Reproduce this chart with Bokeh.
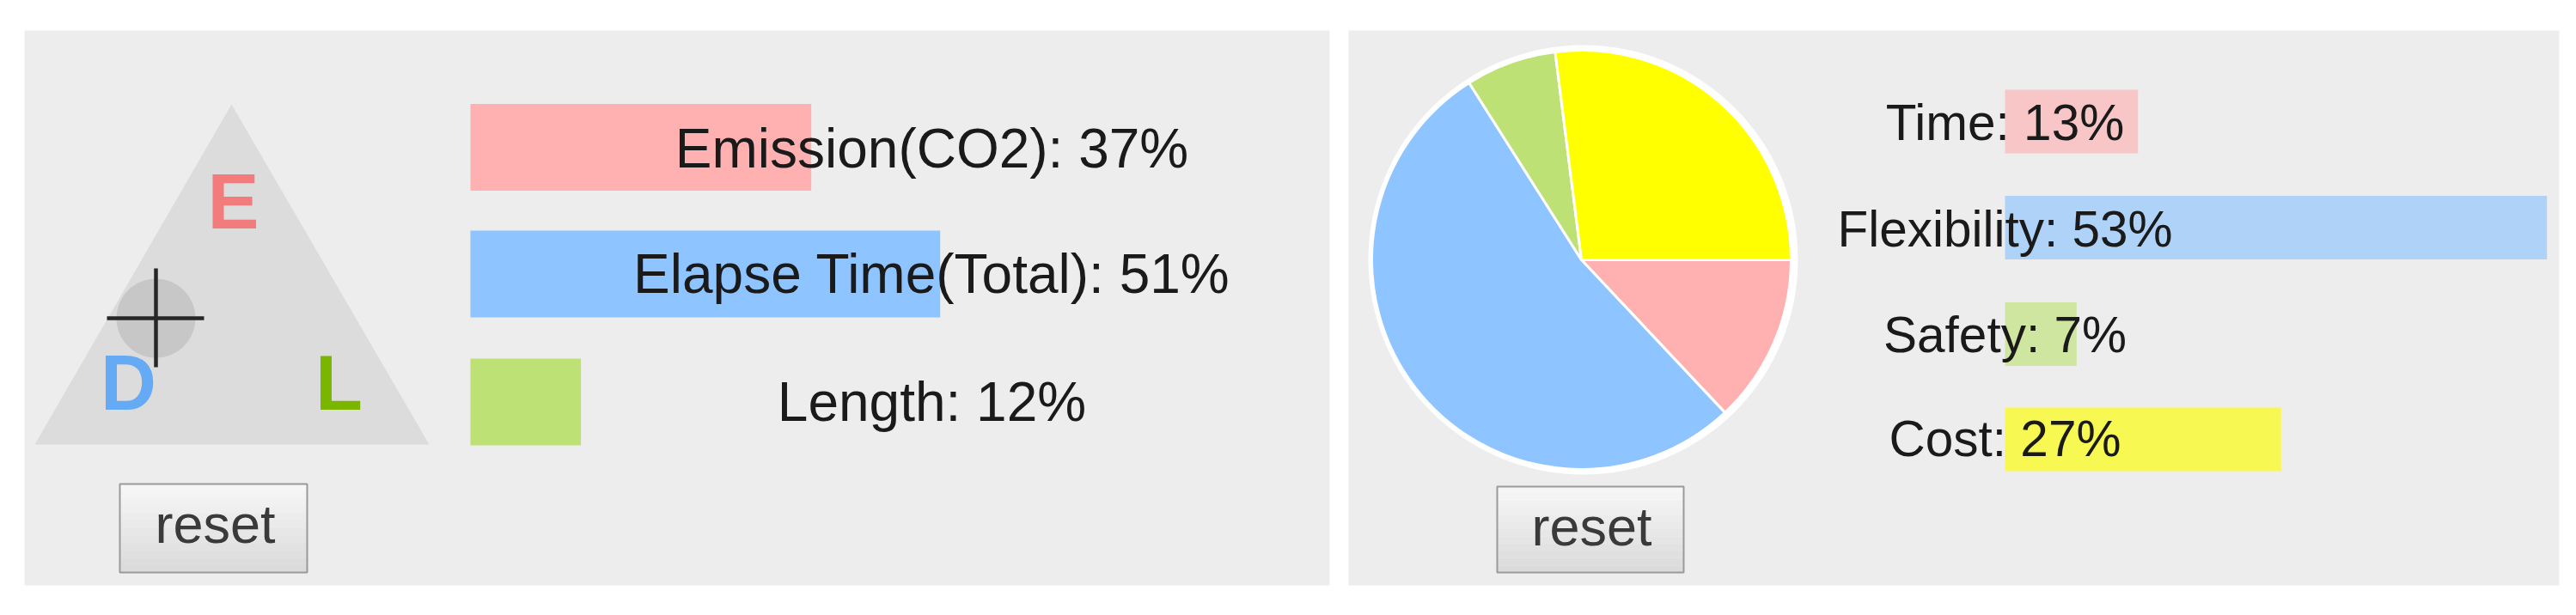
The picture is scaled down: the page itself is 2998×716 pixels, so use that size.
from bokeh.plotting import figure
from bokeh.models import Range1d
from bokeh.core.properties import value
from bokeh.embed import file_html
from bokeh.resources import INLINE
import math

# ---------------- data ----------------
left_labels = ["Emission(CO2)", "Elapse Time(Total)", "Length"]
left_values = [37, 51, 12]
left_colors = ["#ffb1b1", "#8ec4ff", "#bee176"]

tri_letters = ["E", "D", "L"]
tri_colors = ["#f27b7b", "#64aaf4", "#7ab600"]

right_labels = ["Time", "Flexibility", "Safety", "Cost"]
right_values = [13, 53, 7, 27]
pie_colors = ["#ffb1b1", "#8ec4ff", "#bee176", "#ffff00"]
right_bar_colors = ["#f8c6c6", "#aed2f8", "#cfe6a0", "#f8f852"]

button_text = "reset"

# ---------------- layout ----------------
W, H = 2982, 700
FONT = value("Liberation Sans")


def Y(y):
    return H - y


# left bar scale: origin 547 px, 10.72 px per percent
LX0, LS = 547, 10.72
# right bar scale: origin 2333 px, 11.9 px per percent
RX0, RS = 2333, 11.9

p = figure(width=W, height=H, x_range=Range1d(0, W), y_range=Range1d(0, H),
           output_backend="svg", toolbar_location=None,
           x_axis_location=None, y_axis_location=None, min_border=0)
p.extra_x_ranges = {
    "lpct": Range1d(-LX0 / LS, (W - LX0) / LS),
    "rpct": Range1d(-RX0 / RS, (W - RX0) / RS),
}
p.grid.visible = False
p.outline_line_color = None
p.background_fill_color = "white"
p.border_fill_color = "white"

# panels
p.quad(left=[28, 1569], right=[1547, 2978], top=[Y(35), Y(35)],
       bottom=[Y(681), Y(681)], fill_color="#ededed", line_color=None)

# ---- left panel: triangle selector ----
p.patch(x=[269, 40, 499], y=[Y(121), Y(517), Y(517)],
        fill_color="#dcdcdc", line_color=None)
p.text(x=[271, 149, 394], y=[Y(234), Y(445), Y(445)], text=tri_letters,
       text_color=tri_colors, text_font=FONT, text_font_size=value("90px"),
       text_font_style="bold", text_align="center", text_baseline="alphabetic")
p.circle(x=[181], y=[Y(370)], radius=46, radius_units="screen",
         fill_color="#c7c7c7", line_color=None)
p.segment(x0=[124, 181], y0=[Y(370), Y(312)], x1=[237, 181], y1=[Y(370), Y(427)],
          line_color="#262626", line_width=4.5)

# ---- left bars ----
left_y = [Y(171), Y(318.5), Y(467.5)]
p.hbar(y=left_y, height=101, left=0, right=left_values, x_range_name="lpct",
       fill_color=left_colors, line_color=None)
p.text(x=[1084] * 3, y=[Y(172), Y(318.5), Y(467)],
       text=[f"{l}: {v}%" for l, v in zip(left_labels, left_values)],
       text_color="#1a1a1a", text_font=FONT, text_font_size=value("64px"),
       text_align="center", text_baseline="alphabetic")

# ---- pie ----
cx, cy, r = 1840, Y(302), 244
p.circle(x=[cx + 2], y=[cy], radius=250, radius_units="screen",
         fill_color="white", line_color=None)
tot = sum(right_values)
starts, ends = [], []
acc = 0.0
for v in right_values:
    starts.append(-2 * math.pi * acc / tot)
    acc += v
    ends.append(-2 * math.pi * acc / tot)
p.wedge(x=[cx] * 4, y=[cy] * 4, radius=r, radius_units="screen",
        start_angle=starts, end_angle=ends, direction="clock",
        fill_color=pie_colors, line_color="white", line_width=3)

# ---- right bars ----
right_y = [Y(141), Y(264.5), Y(388.5), Y(511)]
p.hbar(y=right_y, height=74, left=0, right=right_values, x_range_name="rpct",
       fill_color=right_bar_colors, line_color=None)
p.text(x=[RX0] * 4, y=[Y(141.5), Y(266), Y(389.3), Y(510.4)],
       text=[f"{l}: {v}%" for l, v in zip(right_labels, right_values)],
       text_color="#1a1a1a", text_font=FONT, text_font_size=value("58.5px"),
       text_align="center", text_baseline="alphabetic")

# ---- reset buttons ----
buttons = [(139, 357, 563, 666, 250, 609), (1742, 1959, 566, 666, 1852, 612)]
n = 12
c0, c1 = (0xf6, 0xf6, 0xf6), (0xdb, 0xdb, 0xdb)
for (bl, br, bt, bb, tx, ty) in buttons:
    hh = (bb - bt) / n
    lefts, rights, tops, bots, cols = [], [], [], [], []
    for i in range(n):
        f = i / (n - 1)
        col = "#%02x%02x%02x" % tuple(int(round(a + (b - a) * f)) for a, b in zip(c0, c1))
        lefts.append(bl)
        rights.append(br)
        tops.append(Y(bt + i * hh))
        bots.append(Y(bt + (i + 1) * hh))
        cols.append(col)
    p.quad(left=lefts, right=rights, top=tops, bottom=bots, fill_color=cols, line_color=None)
    p.quad(left=[bl], right=[br], top=[Y(bt)], bottom=[Y(bb)], fill_color=None,
           line_color="#9a9a9a", line_width=2)
    p.text(x=[tx], y=[Y(ty)], text=[button_text], text_color="#3a3a3a",
           text_font=FONT, text_font_size=value("63px"),
           text_align="center", text_baseline="alphabetic")

open("out.html", "w").write(file_html(p, INLINE))
